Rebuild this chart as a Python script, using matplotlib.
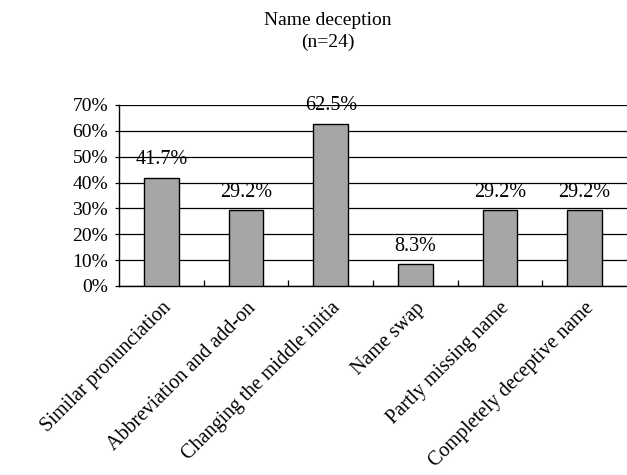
import matplotlib
matplotlib.use("Agg")
import matplotlib.pyplot as plt
from matplotlib.ticker import FixedLocator

categories = [
    "Similar pronunciation",
    "Abbreviation and add-on",
    "Changing the middle initia",
    "Name swap",
    "Partly missing name",
    "Completely deceptive name",
]
shares = [41.7, 29.2, 62.5, 8.3, 29.2, 29.2]
y_ticks = [0, 10, 20, 30, 40, 50, 60, 70]
title_text = "Name deception\n(n=24)"

plt.rcParams["font.family"] = ["Liberation Serif", "DejaVu Serif"]

fig = plt.figure(figsize=(6.27, 4.75), dpi=100)
ax = fig.add_axes([0.19, 0.398, 0.81, 0.381])

x = list(range(len(categories)))
bars = ax.bar(x, shares, width=0.41, color="#a6a6a6", edgecolor="black",
              linewidth=1.0, zorder=3)

for rect, v in zip(bars, shares):
    ax.annotate(f"{v:.1f}%", xy=(rect.get_x() + rect.get_width() / 2, v),
                xytext=(0, 10), textcoords="offset points",
                ha="center", va="baseline", fontsize=14.5, zorder=4)

ax.set_xlim(-0.5, len(categories) - 0.5)
ax.set_ylim(0, 70)
ax.set_yticks(y_ticks)
ax.set_yticklabels([f"{t}%" for t in y_ticks], fontsize=14)
ax.yaxis.grid(True, color="black", linewidth=0.9, zorder=1)
ax.set_axisbelow(True)

ax.set_xticks(x)
ax.set_xticklabels(categories, rotation=45, ha="right",
                   rotation_mode="anchor", fontsize=14.5)
ax.tick_params(axis="x", which="major", length=0, pad=9)
ax.xaxis.set_minor_locator(FixedLocator([i + 0.5 for i in range(len(categories) - 1)]))
ax.tick_params(axis="x", which="minor", direction="in", length=4, width=0.9)
ax.tick_params(axis="y", direction="out", length=3, width=0.9, pad=5)

for side in ("top", "right"):
    ax.spines[side].set_visible(False)
for side in ("left", "bottom"):
    ax.spines[side].set_linewidth(1.0)

fig.text(0.523, 0.975, title_text, ha="center", va="top", fontsize=14,
         linespacing=1.35)

fig.savefig("out.png", dpi=100)
